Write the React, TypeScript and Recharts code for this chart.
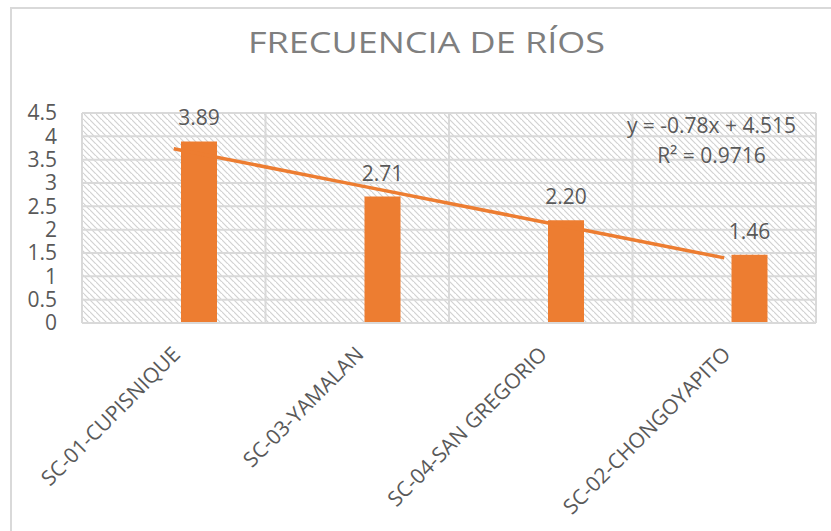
import React from 'react';
import { ComposedChart, Bar, Line, XAxis, YAxis, CartesianGrid, LabelList } from 'recharts';

const categories = ['SC-01-CUPISNIQUE', 'SC-03-YAMALAN', 'SC-04-SAN GREGORIO', 'SC-02-CHONGOYAPITO'];
const frecuencia = [3.89, 2.71, 2.2, 1.46];
const tendencia = [3.735, 2.955, 2.175, 1.395];
const yTicks = [0, 0.5, 1, 1.5, 2, 2.5, 3, 3.5, 4, 4.5];
const titleText = 'FRECUENCIA DE RÍOS';
const eqText = 'y = -0.78x + 4.515';
const r2Text = 'R² = 0.9716';

const FONT = '"Open Sans", sans-serif';
const TEXT = '#595959';
const ORANGE = '#ED7D31';
const GRID = '#d9d9d9';

const data = categories.map((c, i) => ({ name: c, blank: null, value: frecuencia[i], trend: tendencia[i] }));

const XTick = (props: any) => {
  const { x, y, payload } = props;
  return (
    <g transform={`translate(${x + 2},${y})`}>
      <text x={0} y={0} textAnchor="end" dominantBaseline="central" transform="rotate(-45)" fill={TEXT} fontSize={21} fontFamily={FONT}>
        {payload.value}
      </text>
    </g>
  );
};

const bandBoundaries = ({ offset }: any) => {
  const n = categories.length;
  return Array.from({ length: n + 1 }, (_, i) => offset.left + (offset.width * i) / n);
};

export default function App() {
  return (
    <div style={{ position: 'absolute', left: 0, top: 0, width: 831, height: 531, overflow: 'hidden', background: '#fff' }}>
      <div style={{ position: 'absolute', left: 10, top: 7, width: 1000, height: 1000, border: `2px solid ${GRID}` }} />
      <div style={{ position: 'absolute', left: 0, top: 0 }}>
        <ComposedChart width={831} height={531} data={data} margin={{ top: 113, right: 15, bottom: 0, left: 12 }} barGap={14}>
          <defs>
            <pattern id="hatch" width="6" height="6" patternUnits="userSpaceOnUse">
              <rect width="6" height="6" fill="#ffffff" />
              <path d="M-1,-1 L7,7 M-4,2 L2,8 M4,-4 L10,2" stroke="#d2d2d2" strokeWidth="1.2" />
            </pattern>
          </defs>
          <CartesianGrid vertical={true} verticalCoordinatesGenerator={bandBoundaries} stroke={GRID} strokeWidth={2} fill="url(#hatch)" fillOpacity={1} />
          <XAxis dataKey="name" height={208} tickLine={false} axisLine={{ stroke: GRID, strokeWidth: 2 }} tickSize={0} tickMargin={27} tick={<XTick />} interval={0} />
          <YAxis domain={[0, 4.5]} ticks={yTicks} width={70} tickLine={false} axisLine={false} tickSize={0} tickMargin={25} tick={{ fill: TEXT, fontSize: 21, fontFamily: FONT }} interval={0} />
          <Bar dataKey="blank" barSize={36} fill={ORANGE} isAnimationActive={false} />
          <Bar dataKey="value" barSize={36} fill={ORANGE} isAnimationActive={false}>
            <LabelList dataKey="value" position="top" offset={16} formatter={(v: any) => Number(v).toFixed(2)} fill={TEXT} fontSize={21} fontFamily={FONT} />
          </Bar>
          <Line dataKey="trend" stroke={ORANGE} strokeWidth={3.5} dot={false} isAnimationActive={false} />
        </ComposedChart>
      </div>
      <svg width={831} height={531} style={{ position: 'absolute', left: 0, top: 0, pointerEvents: 'none' }}>
        <g transform="translate(426.5,53) scale(1.2,1)">
          <text x={0} y={0} textAnchor="middle" fill="#7f7f7f" fontSize={30} fontFamily={FONT}>{titleText}</text>
        </g>
        <text x={711.5} y={133} textAnchor="middle" fill={TEXT} fontSize={21} fontFamily={FONT}>{eqText}</text>
        <text x={711.5} y={163} textAnchor="middle" fill={TEXT} fontSize={21} fontFamily={FONT}>{r2Text}</text>
      </svg>
    </div>
  );
}
